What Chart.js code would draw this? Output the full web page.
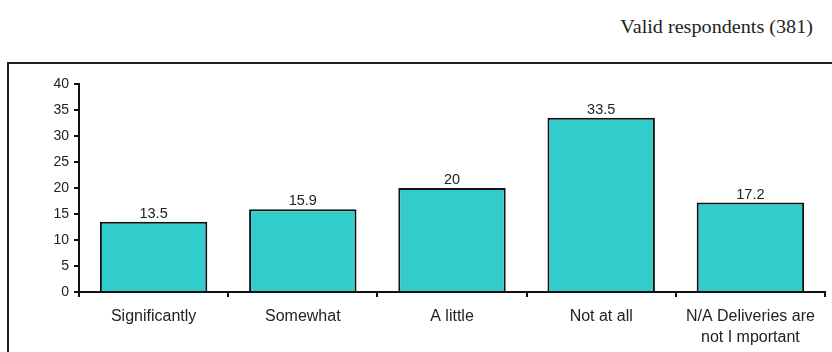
<!DOCTYPE html>
<html lang="en">
<head>
  <meta charset="UTF-8">
  <title>Valid respondents (381)</title>
  <script src="https://cdn.jsdelivr.net/npm/chart.js"></script>
  <style>
    body {
      margin: 0;
      background: #fff;
      width: 832px;
      height: 352px;
      overflow: hidden;
      position: relative;
    }
    .note {
      position: absolute;
      right: 19px;
      top: 17px;
      font-family: "Liberation Serif", "Times New Roman", serif;
      font-size: 18px;
      color: #222;
      transform: scaleX(1.12);
      transform-origin: right center;
    }
    .frame {
      position: absolute;
      left: 7px;
      top: 62px;
      width: 840px;
      height: 320px;
      border: 2px solid #222;
    }
    .chart-box {
      position: absolute;
      left: 0;
      top: 0;
      width: 832px;
      height: 352px;
    }
  </style>
</head>
<body>

<div class="note">Valid respondents (381)</div>
<div class="frame"></div>
<div class="chart-box">
  <canvas id="chart1" width="832" height="352"></canvas>
</div>

<script>
  const categories = ["Significantly", "Somewhat", "A little", "Not at all", ["N/A Deliveries are", "not I mportant"]];
  const values = [13.5, 15.9, 20, 33.5, 17.2];
  const yTicks = [0, 5, 10, 15, 20, 25, 30, 35, 40];

  // numbers above bars
  const valueLabels = {
    id: "valueLabels",
    afterDatasetsDraw(chart) {
      const ctx = chart.ctx;
      const meta = chart.getDatasetMeta(0);
      ctx.save();
      ctx.font = "14.5px 'Liberation Sans', Arial, sans-serif";
      ctx.fillStyle = "#222";
      ctx.textAlign = "center";
      ctx.textBaseline = "alphabetic";
      meta.data.forEach((bar, i) => {
        ctx.fillText(String(values[i]), bar.x, bar.y - 4);
      });
      ctx.restore();
    }
  };

  const ctx = document.getElementById("chart1").getContext("2d");
  new Chart(ctx, {
    type: "bar",
    data: {
      labels: categories,
      datasets: [{
        data: values,
        backgroundColor: "#33cccc",
        borderColor: "#111",
        borderWidth: 2,
        borderSkipped: "bottom",
        categoryPercentage: 1,
        barPercentage: 0.72
      }]
    },
    options: {
      responsive: false,
      animation: false,
      layout: { padding: { top: 84, right: 7, bottom: 0, left: 0 } },
      plugins: {
        legend: { display: false },
        tooltip: { enabled: false }
      },
      scales: {
        x: {
          grid: { drawOnChartArea: false, drawTicks: true, tickLength: 5, color: "#111", lineWidth: 2 },
          border: { display: true, color: "#111", width: 2 },
          ticks: {
            color: "#222",
            font: { family: "'Liberation Sans', Arial, sans-serif", size: 16, lineHeight: 1.3 },
            padding: 9,
            maxRotation: 0,
            autoSkip: false
          },
          afterFit(scale) { scale.height = 60; }
        },
        y: {
          min: 0,
          max: 40,
          afterBuildTicks(scale) { scale.ticks = yTicks.map(v => ({ value: v })); },
          grid: { drawOnChartArea: false, drawTicks: true, tickLength: 5, color: "#111", lineWidth: 2 },
          border: { display: true, color: "#111", width: 2 },
          ticks: {
            color: "#222",
            font: { family: "'Liberation Sans', Arial, sans-serif", size: 14 },
            padding: 5
          },
          afterFit(scale) { scale.width = 79; }
        }
      }
    },
    plugins: [valueLabels]
  });
</script>

</body>
</html>
